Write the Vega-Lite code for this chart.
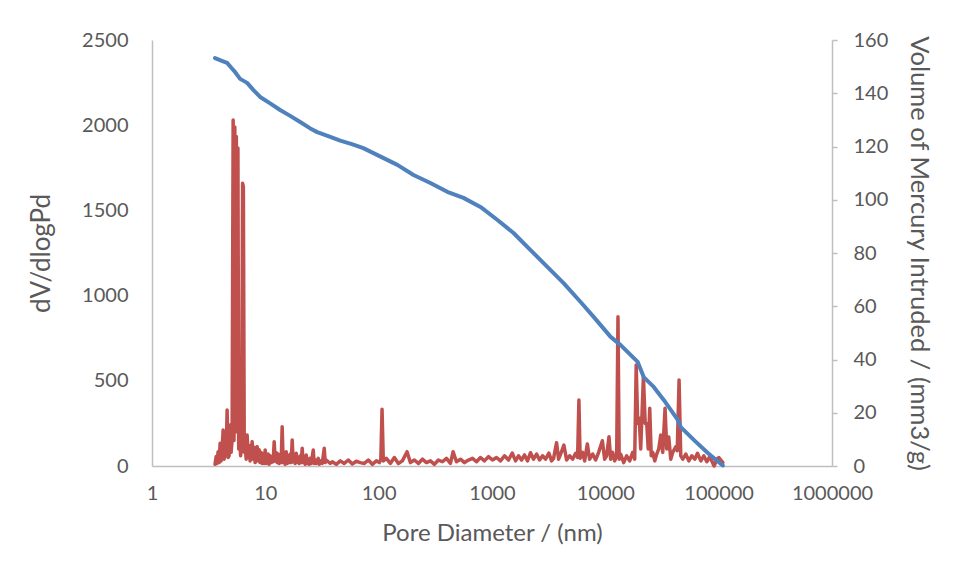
{
  "$schema": "https://vega.github.io/schema/vega-lite/v6.json",
  "width": 680,
  "height": 426,
  "autosize": {"type": "none"},
  "padding": {"left": 152, "top": 40, "right": 125, "bottom": 115},
  "background": "white",
  "config": {
    "view": {"stroke": null},
    "axis": {
      "labelFont": "Lato", "titleFont": "Lato",
      "labelColor": "#595959", "titleColor": "#595959",
      "labelFontSize": 20, "titleFontSize": 24, "titleFontWeight": "normal",
      "domainColor": "#BFBFBF", "domainWidth": 1.5,
      "tickColor": "#BFBFBF", "tickWidth": 1.5,
      "grid": false
    }
  },
  "datasets": {
    "intrusion": [
      {"diameter": 3.60, "volume": 153.2},
      {"diameter": 4.13, "volume": 152.2},
      {"diameter": 4.60, "volume": 151.4},
      {"diameter": 5.05, "volume": 149.4},
      {"diameter": 5.40, "volume": 148.0},
      {"diameter": 5.64, "volume": 146.9},
      {"diameter": 5.99, "volume": 145.4},
      {"diameter": 6.91, "volume": 143.9},
      {"diameter": 7.86, "volume": 141.2},
      {"diameter": 9.00, "volume": 138.6},
      {"diameter": 11.03, "volume": 136.2},
      {"diameter": 13.5, "volume": 133.7},
      {"diameter": 16.57, "volume": 131.5},
      {"diameter": 20.3, "volume": 129.2},
      {"diameter": 24.9, "volume": 126.8},
      {"diameter": 28.7, "volume": 125.4},
      {"diameter": 37.4, "volume": 123.6},
      {"diameter": 45.8, "volume": 122.2},
      {"diameter": 58.0, "volume": 120.9},
      {"diameter": 73.2, "volume": 119.4},
      {"diameter": 103.9, "volume": 116.2},
      {"diameter": 146.2, "volume": 113.1},
      {"diameter": 203, "volume": 109.3},
      {"diameter": 286, "volume": 106.3},
      {"diameter": 403, "volume": 103.0},
      {"diameter": 560, "volume": 100.7},
      {"diameter": 791, "volume": 97.3},
      {"diameter": 1118, "volume": 92.4},
      {"diameter": 1549, "volume": 87.5},
      {"diameter": 2188, "volume": 81.1},
      {"diameter": 3093, "volume": 74.7},
      {"diameter": 4282, "volume": 68.7},
      {"diameter": 6052, "volume": 61.6},
      {"diameter": 7885, "volume": 56.0},
      {"diameter": 11143, "volume": 48.5},
      {"diameter": 13654, "volume": 45.4},
      {"diameter": 19300, "volume": 39.1},
      {"diameter": 21810, "volume": 33.4},
      {"diameter": 26730, "volume": 29.7},
      {"diameter": 32760, "volume": 24.8},
      {"diameter": 43550, "volume": 17.3},
      {"diameter": 46300, "volume": 14.6},
      {"diameter": 60320, "volume": 9.8},
      {"diameter": 80200, "volume": 4.9},
      {"diameter": 108800, "volume": 0.2}
    ],
    "distribution": [
      {"diameter": 3.60, "dv": 10}, {"diameter": 3.68, "dv": 55}, {"diameter": 3.75, "dv": 15},
      {"diameter": 3.83, "dv": 84}, {"diameter": 3.91, "dv": 20}, {"diameter": 3.99, "dv": 133},
      {"diameter": 4.07, "dv": 30}, {"diameter": 4.16, "dv": 100}, {"diameter": 4.24, "dv": 211},
      {"diameter": 4.33, "dv": 40}, {"diameter": 4.42, "dv": 150}, {"diameter": 4.51, "dv": 60},
      {"diameter": 4.60, "dv": 329}, {"diameter": 4.69, "dv": 50}, {"diameter": 4.79, "dv": 60},
      {"diameter": 4.89, "dv": 240}, {"diameter": 4.99, "dv": 80}, {"diameter": 5.09, "dv": 150},
      {"diameter": 5.20, "dv": 2031}, {"diameter": 5.29, "dv": 150}, {"diameter": 5.38, "dv": 1990},
      {"diameter": 5.47, "dv": 200}, {"diameter": 5.55, "dv": 1933}, {"diameter": 5.64, "dv": 300},
      {"diameter": 5.73, "dv": 1866}, {"diameter": 5.82, "dv": 100}, {"diameter": 5.93, "dv": 180},
      {"diameter": 6.05, "dv": 60}, {"diameter": 6.18, "dv": 120}, {"diameter": 6.30, "dv": 1659},
      {"diameter": 6.40, "dv": 1640}, {"diameter": 6.52, "dv": 80}, {"diameter": 6.63, "dv": 130},
      {"diameter": 6.77, "dv": 40}, {"diameter": 6.91, "dv": 182}, {"diameter": 7.05, "dv": 50},
      {"diameter": 7.20, "dv": 120}, {"diameter": 7.34, "dv": 30}, {"diameter": 7.50, "dv": 90},
      {"diameter": 7.65, "dv": 143},
      {"diameter": 7.81, "dv": 40}, {"diameter": 7.97, "dv": 110}, {"diameter": 8.13, "dv": 20},
      {"diameter": 8.30, "dv": 80},
      {"diameter": 8.47, "dv": 113}, {"diameter": 8.65, "dv": 30}, {"diameter": 8.82, "dv": 95},
      {"diameter": 9.00, "dv": 20}, {"diameter": 9.19, "dv": 80}, {"diameter": 9.38, "dv": 15},
      {"diameter": 9.57, "dv": 70}, {"diameter": 9.76, "dv": 15}, {"diameter": 9.97, "dv": 94},
      {"diameter": 10.17, "dv": 15}, {"diameter": 10.38, "dv": 60}, {"diameter": 10.59, "dv": 70}, {"diameter": 10.80, "dv": 10},
      {"diameter": 11.03, "dv": 60}, {"diameter": 11.26, "dv": 20}, {"diameter": 11.49, "dv": 50}, {"diameter": 11.73, "dv": 25}, {"diameter": 11.97, "dv": 143},
      {"diameter": 12.22, "dv": 30}, {"diameter": 12.46, "dv": 80}, {"diameter": 12.72, "dv": 20},
      {"diameter": 12.98, "dv": 70}, {"diameter": 13.25, "dv": 15}, {"diameter": 13.52, "dv": 60},
      {"diameter": 13.80, "dv": 20},
      {"diameter": 14.08, "dv": 231}, {"diameter": 14.37, "dv": 20}, {"diameter": 14.67, "dv": 60},
      {"diameter": 14.97, "dv": 10}, {"diameter": 15.28, "dv": 84}, {"diameter": 15.59, "dv": 15},
      {"diameter": 15.91, "dv": 60}, {"diameter": 16.24, "dv": 20}, {"diameter": 16.57, "dv": 70},
      {"diameter": 16.90, "dv": 20},
      {"diameter": 17.26, "dv": 153}, {"diameter": 17.61, "dv": 25}, {"diameter": 17.98, "dv": 70},
      {"diameter": 18.35, "dv": 15}, {"diameter": 18.73, "dv": 75}, {"diameter": 19.11, "dv": 20},
      {"diameter": 19.50, "dv": 50}, {"diameter": 19.90, "dv": 15}, {"diameter": 20.31, "dv": 60},
      {"diameter": 20.70, "dv": 20},
      {"diameter": 21.15, "dv": 104}, {"diameter": 21.58, "dv": 20}, {"diameter": 22.03, "dv": 50},
      {"diameter": 22.48, "dv": 10}, {"diameter": 22.95, "dv": 65}, {"diameter": 23.42, "dv": 15},
      {"diameter": 23.90, "dv": 40}, {"diameter": 24.40, "dv": 10}, {"diameter": 24.89, "dv": 45}, {"diameter": 25.40, "dv": 15}, {"diameter": 25.93, "dv": 50},
      {"diameter": 26.47, "dv": 94}, {"diameter": 27.01, "dv": 15}, {"diameter": 27.60, "dv": 35}, {"diameter": 28.13, "dv": 15},
      {"diameter": 28.70, "dv": 30},
      {"diameter": 29.30, "dv": 45}, {"diameter": 29.90, "dv": 10}, {"diameter": 31.10, "dv": 30},
      {"diameter": 31.78, "dv": 15}, {"diameter": 33.10, "dv": 104}, {"diameter": 33.78, "dv": 20},
      {"diameter": 34.47, "dv": 35}, {"diameter": 35.91, "dv": 25}, {"diameter": 37.40, "dv": 15},
      {"diameter": 38.95, "dv": 25}, {"diameter": 42.26, "dv": 10}, {"diameter": 45.84, "dv": 30},
      {"diameter": 49.73, "dv": 15}, {"diameter": 53.94, "dv": 35}, {"diameter": 58.52, "dv": 12},
      {"diameter": 63.48, "dv": 28}, {"diameter": 68.87, "dv": 20}, {"diameter": 74.70, "dv": 15},
      {"diameter": 81.04, "dv": 35}, {"diameter": 87.90, "dv": 10}, {"diameter": 95.36, "dv": 30},
      {"diameter": 101.4, "dv": 20}, {"diameter": 104.5, "dv": 40}, {"diameter": 107.1, "dv": 333},
      {"diameter": 109.9, "dv": 30}, {"diameter": 116.9, "dv": 45}, {"diameter": 126.8, "dv": 15},
      {"diameter": 137.5, "dv": 50}, {"diameter": 149.2, "dv": 15}, {"diameter": 161.8, "dv": 30},
      {"diameter": 178.1, "dv": 84}, {"diameter": 190.4, "dv": 20}, {"diameter": 206.6, "dv": 35},
      {"diameter": 224.1, "dv": 15}, {"diameter": 243.1, "dv": 40}, {"diameter": 263.8, "dv": 20},
      {"diameter": 286.2, "dv": 30}, {"diameter": 310.4, "dv": 10}, {"diameter": 336.7, "dv": 35},
      {"diameter": 365.3, "dv": 25}, {"diameter": 396.3, "dv": 45}, {"diameter": 429.9, "dv": 15},
      {"diameter": 453.9, "dv": 84}, {"diameter": 485.7, "dv": 25}, {"diameter": 526.9, "dv": 40},
      {"diameter": 571.5, "dv": 20}, {"diameter": 620.0, "dv": 35}, {"diameter": 672.5, "dv": 45},
      {"diameter": 729.5, "dv": 25}, {"diameter": 791.4, "dv": 50}, {"diameter": 858.4, "dv": 30},
      {"diameter": 931.2, "dv": 55}, {"diameter": 1010, "dv": 35}, {"diameter": 1096, "dv": 50},
      {"diameter": 1189, "dv": 30}, {"diameter": 1290, "dv": 60}, {"diameter": 1399, "dv": 35},
      {"diameter": 1508, "dv": 76}, {"diameter": 1613, "dv": 30}, {"diameter": 1714, "dv": 60},
      {"diameter": 1822, "dv": 35}, {"diameter": 1937, "dv": 65}, {"diameter": 2059, "dv": 30},
      {"diameter": 2188, "dv": 78}, {"diameter": 2326, "dv": 40}, {"diameter": 2473, "dv": 70},
      {"diameter": 2628, "dv": 35}, {"diameter": 2793, "dv": 60}, {"diameter": 2970, "dv": 40},
      {"diameter": 3176, "dv": 76}, {"diameter": 3354, "dv": 30}, {"diameter": 3494, "dv": 45},
      {"diameter": 3714, "dv": 137}, {"diameter": 3869, "dv": 40}, {"diameter": 4030, "dv": 70},
      {"diameter": 4309, "dv": 123}, {"diameter": 4552, "dv": 35}, {"diameter": 4838, "dv": 60},
      {"diameter": 5143, "dv": 40}, {"diameter": 5467, "dv": 75}, {"diameter": 5693, "dv": 50},
      {"diameter": 5846, "dv": 387}, {"diameter": 5991, "dv": 45}, {"diameter": 6303, "dv": 80},
      {"diameter": 6566, "dv": 30}, {"diameter": 6937, "dv": 129}, {"diameter": 7268, "dv": 40},
      {"diameter": 7727, "dv": 70}, {"diameter": 8211, "dv": 35}, {"diameter": 8730, "dv": 80},
      {"diameter": 9413, "dv": 148}, {"diameter": 9863, "dv": 40}, {"diameter": 10270, "dv": 60},
      {"diameter": 10770, "dv": 172}, {"diameter": 11143, "dv": 40}, {"diameter": 11610, "dv": 80},
      {"diameter": 12090, "dv": 30}, {"diameter": 12590, "dv": 60}, {"diameter": 12930, "dv": 876},
      {"diameter": 13250, "dv": 40}, {"diameter": 13654, "dv": 70}, {"diameter": 14520, "dv": 20},
      {"diameter": 15430, "dv": 60}, {"diameter": 16400, "dv": 30}, {"diameter": 17430, "dv": 80},
      {"diameter": 18160, "dv": 40}, {"diameter": 18720, "dv": 593}, {"diameter": 19300, "dv": 250},
      {"diameter": 19900, "dv": 280}, {"diameter": 20520, "dv": 100}, {"diameter": 21680, "dv": 524},
      {"diameter": 22480, "dv": 250}, {"diameter": 23190, "dv": 250}, {"diameter": 23900, "dv": 100},
      {"diameter": 24650, "dv": 339}, {"diameter": 25410, "dv": 60}, {"diameter": 26200, "dv": 80},
      {"diameter": 27290, "dv": 30}, {"diameter": 28410, "dv": 70}, {"diameter": 29600, "dv": 100},
      {"diameter": 30830, "dv": 182}, {"diameter": 32100, "dv": 80}, {"diameter": 33650, "dv": 339},
      {"diameter": 34830, "dv": 100}, {"diameter": 36260, "dv": 170}, {"diameter": 37780, "dv": 40},
      {"diameter": 39350, "dv": 80}, {"diameter": 41820, "dv": 113}, {"diameter": 43120, "dv": 90},
      {"diameter": 44730, "dv": 505}, {"diameter": 46300, "dv": 60}, {"diameter": 48230, "dv": 40},
      {"diameter": 51270, "dv": 70}, {"diameter": 54490, "dv": 30}, {"diameter": 57910, "dv": 60},
      {"diameter": 61540, "dv": 40}, {"diameter": 65030, "dv": 75}, {"diameter": 69560, "dv": 30},
      {"diameter": 73930, "dv": 60}, {"diameter": 78590, "dv": 25}, {"diameter": 83530, "dv": 55},
      {"diameter": 86990, "dv": 30}, {"diameter": 91160, "dv": 0}, {"diameter": 96320, "dv": 40},
      {"diameter": 100300, "dv": 50}, {"diameter": 104500, "dv": 35}, {"diameter": 108800, "dv": 20}
    ]
  },
  "layer": [
    {
      "data": {"name": "distribution"},
      "mark": {"type": "line", "color": "#C0504D", "strokeWidth": 3.5, "strokeJoin": "round", "strokeCap": "round"},
      "encoding": {
        "x": {
          "field": "diameter", "type": "quantitative",
          "scale": {"type": "log", "domain": [1, 1000000]},
          "axis": {
            "title": "Pore Diameter / (nm)",
            "values": [1, 10, 100, 1000, 10000, 100000, 1000000],
            "format": "d", "ticks": false, "tickSize": 0,
            "labelPadding": 17, "titlePadding": 18, "labelFlush": false
          }
        },
        "y": {
          "field": "dv", "type": "quantitative",
          "scale": {"domain": [0, 2500]},
          "axis": {
            "title": "dV/dlogPd", "orient": "left", "format": "d",
            "values": [0, 500, 1000, 1500, 2000, 2500],
            "ticks": false, "tickSize": 0, "labelPadding": 24, "titlePadding": 27,
            "titleFontSize": 26
          }
        }
      }
    },
    {
      "data": {"name": "intrusion"},
      "mark": {"type": "line", "color": "#4F81BD", "strokeWidth": 4, "strokeJoin": "round", "strokeCap": "round"},
      "encoding": {
        "x": {"field": "diameter", "type": "quantitative", "scale": {"type": "log", "domain": [1, 1000000]}},
        "y": {
          "field": "volume", "type": "quantitative",
          "scale": {"domain": [0, 160]},
          "axis": {
            "title": "Volume of Mercury Intruded / (mm3/g)", "orient": "right", "format": "d",
            "values": [0, 20, 40, 60, 80, 100, 120, 140, 160],
            "tickSize": 5, "labelPadding": 16, "titlePadding": 18,
            "titleFontSize": 25.5
          }
        }
      }
    }
  ],
  "resolve": {"scale": {"y": "independent"}}
}
